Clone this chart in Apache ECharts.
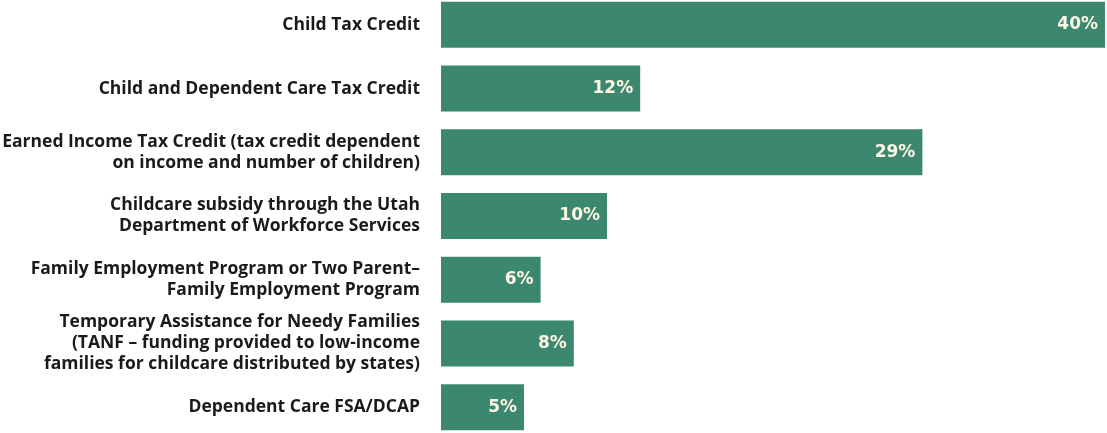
<!DOCTYPE html>
<html>
<head>
<meta charset="utf-8">
<script src="https://cdn.jsdelivr.net/npm/echarts@6/dist/echarts.min.js"></script>
<style>
  html, body { margin: 0; padding: 0; background: #ffffff; }
  #chart { width: 1107px; height: 433px; }
</style>
</head>
<body>
<div id="chart"></div>
<script>
const CATEGORIES = [
  "Child Tax Credit",
  "Child and Dependent Care Tax Credit",
  "Earned Income Tax Credit (tax credit dependent\non income and number of children)",
  "Childcare subsidy through the Utah\nDepartment of Workforce Services",
  "Family Employment Program or Two Parent\u2013\nFamily Employment Program",
  "Temporary Assistance for Needy Families\n(TANF \u2013 funding provided to low-income\nfamilies for childcare distributed by states)",
  "Dependent Care FSA/DCAP"
];

const SHARES = [40, 12, 29, 10, 6, 8, 5];

const BAR_COLOR = "#3c8770";

const chart = echarts.init(document.getElementById("chart"));

chart.setOption({
  backgroundColor: "#ffffff",
  animation: false,
  grid: { left: 441, right: 2, top: -7, bottom: -6, containLabel: false, outerBoundsMode: "none" },
  xAxis: {
    type: "value",
    min: 0,
    max: 40,
    show: false,
    splitLine: { show: false }
  },
  yAxis: {
    type: "category",
    data: CATEGORIES,
    inverse: true,
    axisLine: { show: false },
    axisTick: { show: false },
    axisLabel: {
      margin: 21,
      align: "right",
      color: "#1a1a1a",
      fontFamily: "Open Sans",
      fontWeight: "bold",
      fontSize: 17.5,
      lineHeight: 21
    }
  },
  series: [{
    type: "bar",
    data: SHARES,
    barWidth: 46,
    itemStyle: { color: BAR_COLOR },
    label: {
      show: true,
      position: "insideRight",
      distance: 7,
      formatter: p => p.value + "%",
      color: "#fdf6e3",
      fontFamily: "DejaVu Sans",
      fontWeight: "bold",
      fontSize: 17
    }
  }]
});
</script>
</body>
</html>
